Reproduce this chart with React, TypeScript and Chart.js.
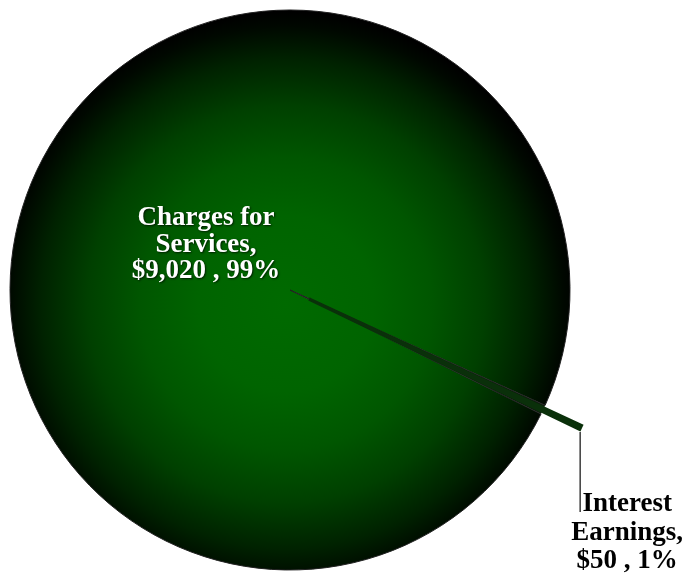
import React, { useEffect, useRef } from "react";
import { Chart, registerables } from "chart.js";

Chart.register(...registerables);

const categories = ["Charges for Services", "Interest Earnings"];
const amounts = [9020, 50];
const amountLabels = ["$9,020", "$50"];
const percentLabels = ["99%", "1%"];
const labelLines = [
  ["Charges for", "Services,", "$9,020 , 99%"],
  ["Interest", "Earnings,", "$50 , 1%"],
];

const PIE_RADIUS = 280;
const SLICE_OFFSET = 84;
const FONT = "bold 27px 'Liberation Serif', 'Times New Roman', serif";

export default function App() {
  const ref = useRef<HTMLCanvasElement | null>(null);

  useEffect(() => {
    if (!ref.current) return;
    const gapPlugin = {
      id: "gapFill",
      beforeDatasetsDraw(chart: any) {
        const meta = chart.getDatasetMeta(0);
        const small = meta.data[1] as any;
        if (!small) return;
        const ctx = chart.ctx as CanvasRenderingContext2D;
        ctx.save();
        ctx.beginPath();
        ctx.moveTo(small.x, small.y);
        ctx.arc(small.x, small.y, small.outerRadius, small.startAngle, small.endAngle);
        ctx.closePath();
        ctx.fillStyle = "#0d1f0d";
        ctx.fill();
        ctx.restore();
      },
    };
    const labelPlugin = {
      id: "pieLabels",
      afterDraw(chart: any) {
        const ctx = chart.ctx as CanvasRenderingContext2D;
        const meta = chart.getDatasetMeta(0);
        const big = meta.data[0] as any;
        const small = meta.data[1] as any;
        if (!big || !small) return;
        const cx = big.x;
        const cy = big.y;
        ctx.save();
        ctx.font = FONT;
        ctx.textAlign = "center";
        ctx.textBaseline = "alphabetic";

        // big slice label (white inside)
        ctx.fillStyle = "#ffffff";
        ctx.shadowColor = "rgba(0,0,0,0.7)";
        ctx.shadowBlur = 2;
        ctx.shadowOffsetX = 1;
        ctx.shadowOffsetY = 1;
        const bx = cx - 84;
        const by = cy - 65;
        labelLines[0].forEach((t, i) => ctx.fillText(t, bx, by + i * 26.7));
        ctx.shadowColor = "transparent";
        ctx.shadowBlur = 0;
        ctx.shadowOffsetX = 0;
        ctx.shadowOffsetY = 0;

        // small slice leader line + label
        const t = SLICE_OFFSET / 4;
        const mid = (small.startAngle + small.endAngle) / 2;
        const fix = 1 - Math.sin(Math.min(Math.PI, small.circumference || 0));
        const sx = small.x + Math.cos(mid) * t;
        const sy = small.y + Math.sin(mid) * t;
        const rr = small.outerRadius + t * fix;
        const ex = sx + Math.cos(small.endAngle) * rr + 2;
        const ey = sy + Math.sin(small.endAngle) * rr;
        ctx.strokeStyle = "#3c3c3c";
        ctx.lineWidth = 1.5;
        ctx.beginPath();
        ctx.moveTo(ex, ey);
        ctx.lineTo(ex, ey + 80);
        ctx.stroke();

        ctx.fillStyle = "#000000";
        const lx = ex + 47;
        const ly = ey + 79;
        labelLines[1].forEach((s, i) => ctx.fillText(s, lx, ly + i * 28.5));
        ctx.restore();
      },
    };

    const chart = new Chart(ref.current, {
      type: "pie",
      data: {
        labels: categories,
        datasets: [
          {
            data: amounts,
            backgroundColor: (c: any) => {
              const chart = c.chart;
              const area = chart.chartArea;
              if (c.dataIndex === 1) return "#0b4d0b";
              if (!area) return "#003a00";
              const cx = (area.left + area.right) / 2 - 4;
              const cy = (area.top + area.bottom) / 2 + 14;
              const g = chart.ctx.createRadialGradient(cx, cy, 0, cx, cy, PIE_RADIUS + 12);
              g.addColorStop(0, "rgb(0,106,0)");
              g.addColorStop(0.3, "rgb(0,100,0)");
              g.addColorStop(0.5, "rgb(0,86,0)");
              g.addColorStop(0.68, "rgb(0,64,0)");
              g.addColorStop(0.84, "rgb(0,34,0)");
              g.addColorStop(0.95, "rgb(0,8,0)");
              g.addColorStop(1, "rgb(0,0,0)");
              return g;
            },
            borderColor: ["#222222", "#0a300a"],
            borderWidth: [1, 3.5],
            borderJoinStyle: ["round", "miter"],
            offset: [0, SLICE_OFFSET],
          },
        ],
      },
      options: {
        responsive: false,
        animation: false,
        devicePixelRatio: 1,
        rotation: 116.3,
        radius: PIE_RADIUS,
        layout: { padding: { left: 0, right: 106, top: 5, bottom: 0 } },
        plugins: {
          legend: { display: false },
          tooltip: { enabled: false },
          title: { display: false },
        },
      },
      plugins: [gapPlugin, labelPlugin],
    });
    return () => chart.destroy();
  }, []);

  return (
    <div style={{ position: "absolute", left: 0, top: 0, width: 686, height: 575, background: "#fff" }}>
      <canvas ref={ref} width={686} height={575} style={{ width: 686, height: 575, display: "block" }} />
    </div>
  );
}
